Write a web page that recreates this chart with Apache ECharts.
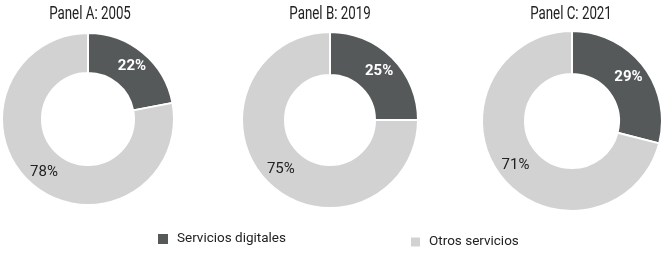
<!DOCTYPE html>
<html>
<head>
<meta charset="utf-8">
<script src="https://cdn.jsdelivr.net/npm/echarts@6/dist/echarts.min.js"></script>
<style>
  html, body { margin: 0; padding: 0; background: #fff; }
  #chart { width: 664px; height: 253px; }
</style>
</head>
<body>
<div id="chart"></div>
<script>
// datos
const categories = ['Servicios digitales', 'Otros servicios'];
const panels = ['Panel A: 2005', 'Panel B: 2019', 'Panel C: 2021'];
const digitales = [22, 25, 29];
const otros = [78, 75, 71];

const colors = ['#55595a', '#d1d2d1'];
const font = 'Roboto, sans-serif';

// posicion de cada dona
const centers = [[88, 119], [330, 120], [572, 121]];
const radii = [[46, 86], [45, 88], [47, 90]];
const titleX = [90, 330, 571];

const chart = echarts.init(document.getElementById('chart'));

// los titulos van como texto grafico, estrechados para imitar la fuente condensada
let titles = [];
let series = [];
panels.forEach(function (p, i) {
  titles.push({
    type: 'text',
    x: titleX[i],
    y: 14,
    scaleX: 0.74,
    silent: true,
    style: {
      text: p,
      align: 'center',
      verticalAlign: 'middle',
      fontFamily: font,
      fontSize: 18,
      fill: '#222'
    }
  });
  series.push({
    type: 'pie',
    center: centers[i],
    radius: radii[i],
    startAngle: 90,
    clockwise: true,
    silent: true,
    itemStyle: { borderColor: '#fff', borderWidth: 2 },
    label: {
      show: true,
      position: 'inside',
      formatter: '{c}%',
      fontFamily: font,
      fontSize: 15
    },
    labelLine: { show: false },
    data: [
      { name: categories[0], value: digitales[i], itemStyle: { color: colors[0] },
        label: { color: '#fff', fontWeight: 'bold' } },
      { name: categories[1], value: otros[i], itemStyle: { color: colors[1] },
        label: { color: '#222' } }
    ]
  });
});

chart.setOption({
  animation: false,
  graphic: titles,
  legend: [
    {
      data: [categories[0]],
      left: 156, top: 232,
      padding: 0,
      itemWidth: 12, itemHeight: 12,
      icon: 'rect',
      textStyle: { fontFamily: font, fontSize: 13.5, color: '#222', padding: [0, 0, 0, 3] }
    },
    {
      data: [categories[1]],
      left: 409, top: 235,
      padding: 0,
      itemWidth: 11, itemHeight: 11,
      icon: 'rect',
      textStyle: { fontFamily: font, fontSize: 13.5, color: '#222', padding: [0, 0, 0, 3] }
    }
  ],
  series: series
});
</script>
</body>
</html>
